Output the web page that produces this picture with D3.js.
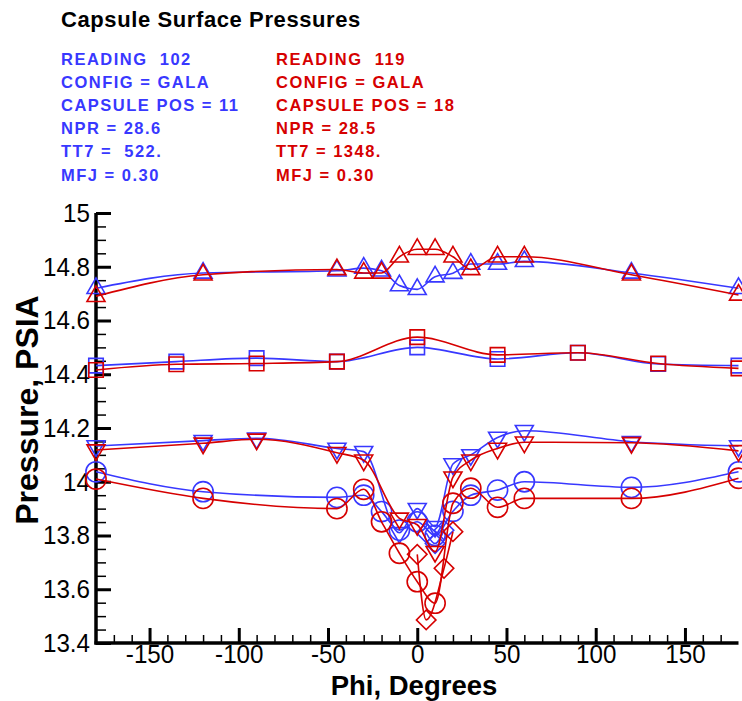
<!DOCTYPE html>
<html>
<head>
<meta charset="utf-8">
<script src="https://cdn.jsdelivr.net/npm/d3@7"></script>
<style>
  body { margin: 0; background: #fff; }
  svg { display: block; font-family: "Liberation Sans", Arial, sans-serif; }
</style>
</head>
<body>
<div class="plot"></div>
<script>
// ---- data ----
const phiTriUp = [-180, -120, -45, -30, -20, -10, 0, 10, 20, 30, 45, 60, 120, 180];
const blueTriUp = [14.72, 14.777, 14.785, 14.795, 14.785, 14.73, 14.716, 14.763, 14.776, 14.81, 14.81, 14.82, 14.777, 14.72];
const redTriUp = [14.69, 14.77, 14.79, 14.777, 14.777, 14.837, 14.865, 14.865, 14.837, 14.79, 14.837, 14.837, 14.77, 14.695];

const phiSquare = [-180, -135, -90, -45, 0, 45, 90, 135, 180];
const blueSquare = [14.432, 14.447, 14.46, 14.447, 14.5, 14.457, 14.48, 14.438, 14.432];
const redSquare = [14.416, 14.437, 14.44, 14.447, 14.538, 14.472, 14.48, 14.44, 14.422];

const phiTriDown = [-180, -120, -90, -45, -30, -10, 0, 10, 20, 30, 45, 60, 120, 180];
const blueTriDown = [14.133, 14.153, 14.162, 14.124, 14.112, 13.81, 13.9, 13.833, 14.066, 14.1, 14.165, 14.19, 14.149, 14.133];
const redTriDown = [14.118, 14.143, 14.158, 14.108, 14.08, 13.864, 13.84, 13.74, 14.017, 14.08, 14.124, 14.147, 14.145, 14.115];

const phiCircle = [-180, -120, -45, -30, -20, -10, 0, 10, 20, 30, 45, 60, 120, 180];
const blueCircle = [14.037, 13.963, 13.942, 13.95, 13.889, 13.82, 13.851, 13.8, 13.89, 13.95, 13.969, 14.0, 13.979, 14.037];
const redCircle = [14.01, 13.938, 13.9, 13.972, 13.851, 13.734, 13.628, 13.548, 13.92, 13.976, 13.905, 13.938, 13.938, 14.013];

const phiBlueDiamond = [5, 10, 15];
const blueDiamond = [13.81, 13.77, 13.82];
const phiRedDiamond = [0, 5, 15, 20];
const redDiamond = [13.73, 13.486, 13.678, 13.814];

const blueInfo = ["READING  102", "CONFIG = GALA", "CAPSULE POS = 11", "NPR = 28.6", "TT7 =  522.", "MFJ = 0.30"];
const redInfo = ["READING  119", "CONFIG = GALA", "CAPSULE POS = 18", "NPR = 28.5", "TT7 = 1348.", "MFJ = 0.30"];

const xTicks = [-150, -100, -50, 0, 50, 100, 150];
const yTicks = [13.4, 13.6, 13.8, 14, 14.2, 14.4, 14.6, 14.8, 15];

const BLUE = "#3838ff", RED = "#d60000";

const series = [
  { phi: phiTriUp, v: blueTriUp, shape: "up", color: BLUE },
  { phi: phiSquare, v: blueSquare, shape: "square", color: BLUE },
  { phi: phiTriDown, v: blueTriDown, shape: "down", color: BLUE },
  { phi: phiCircle, v: blueCircle, shape: "circle", color: BLUE },
  { phi: phiBlueDiamond, v: blueDiamond, shape: "diamond", color: BLUE },
  { phi: phiTriUp, v: redTriUp, shape: "up", color: RED },
  { phi: phiSquare, v: redSquare, shape: "square", color: RED },
  { phi: phiTriDown, v: redTriDown, shape: "down", color: RED },
  { phi: phiCircle, v: redCircle, shape: "circle", color: RED },
  { phi: phiRedDiamond, v: redDiamond, shape: "diamond", color: RED }
];

const width = 742, height = 701;
const plotL = 96, plotR = 738.5, plotT = 213, plotB = 643;

const svg = d3.select(".plot").append("svg")
  .attr("width", width)
  .attr("height", height);

const x = d3.scaleLinear().domain([-180, 180]).range([plotL, plotR]);
const y = d3.scaleLinear().domain([13.4, 15]).range([plotB, plotT]);

// title + run info
svg.append("text")
  .attr("x", 61).attr("y", 27)
  .attr("font-size", 22).attr("font-weight", "bold")
  .attr("letter-spacing", 0.6)
  .text("Capsule Surface Pressures");

[[blueInfo, 61, BLUE], [redInfo, 276, RED]].forEach(function(b) {
  svg.append("g").selectAll("text").data(b[0]).enter()
    .append("text")
    .attr("x", b[1])
    .attr("y", function(d, i) { return 65 + i * 23.1; })
    .attr("font-size", 16.5).attr("font-weight", "bold")
    .attr("letter-spacing", 1.5)
    .attr("fill", b[2])
    .style("white-space", "pre")
    .text(function(d) { return d; });
});

// minor ticks
const xMinor = d3.range(-170, 180, 10).filter(function(d) { return d % 50 !== 0; });
const yMinor = d3.range(0, 33).map(function(i) { return +(13.4 + i * 0.05).toFixed(2); })
  .filter(function(d) { return Math.round(d * 100) % 20 !== 0; });

svg.append("g")
  .attr("transform", "translate(0," + plotB + ")")
  .call(d3.axisBottom(x).tickValues(xMinor).tickSizeInner(-8).tickSizeOuter(0).tickFormat(""))
  .call(function(g) { g.select(".domain").remove(); })
  .selectAll("line").attr("stroke-width", 1.5);

svg.append("g")
  .attr("transform", "translate(" + plotL + ",0)")
  .call(d3.axisLeft(y).tickValues(yMinor).tickSizeInner(-10).tickSizeOuter(0).tickFormat(""))
  .call(function(g) { g.select(".domain").remove(); })
  .selectAll("line").attr("stroke-width", 1.5);

// major ticks and labels (plain hyphen for negatives, like the original)
const xAxis = svg.append("g")
  .attr("transform", "translate(0," + plotB + ")")
  .call(d3.axisBottom(x).tickValues(xTicks).tickSizeInner(-15).tickSizeOuter(0).tickPadding(2)
    .tickFormat(function(d) { return String(d); }));
const yAxis = svg.append("g")
  .attr("transform", "translate(" + plotL + ",0)")
  .call(d3.axisLeft(y).tickValues(yTicks).tickSizeInner(-15).tickSizeOuter(0).tickPadding(6)
    .tickFormat(function(d) { return String(d); }));

[xAxis, yAxis].forEach(function(g) {
  g.select(".domain").attr("stroke-width", 3.5);
  g.selectAll(".tick line").attr("stroke-width", 3);
  g.selectAll(".tick text")
    .attr("font-family", "'Liberation Sans', Arial, sans-serif")
    .attr("font-size", 26)
    .attr("fill", "#000");
});
xAxis.select(".domain").attr("d", "M" + (plotL - 1.5) + ",0H" + plotR);
yAxis.select(".domain").attr("d", "M0," + plotT + "V" + (plotB + 1.5));

// squeeze the tick labels like the original narrow face
svg.selectAll(".tick text").each(function() {
  const w = this.getComputedTextLength();
  d3.select(this).attr("textLength", w * 0.93).attr("lengthAdjust", "spacingAndGlyphs");
});

// axis titles
svg.append("text")
  .attr("x", 414).attr("y", 695)
  .attr("text-anchor", "middle")
  .attr("font-size", 27.5).attr("font-weight", "bold")
  .text("Phi, Degrees");

svg.append("text")
  .attr("transform", "translate(38,410) rotate(-90)")
  .attr("text-anchor", "middle")
  .attr("font-size", 32).attr("font-weight", "bold")
  .text("Pressure, PSIA");

// series
const line = d3.line()
  .x(function(d) { return x(d[0]); })
  .y(function(d) { return y(d[1]); })
  .curve(d3.curveMonotoneX);

const symbols = {
  up: d3.symbol(d3.symbolTriangle, 140),
  down: d3.symbol(d3.symbolTriangle, 140),
  square: d3.symbol(d3.symbolSquare, 210),
  circle: d3.symbol(d3.symbolCircle, 320),
  diamond: d3.symbol(d3.symbolSquare, 190)
};
const rotation = { up: 0, down: 180, square: 0, circle: 0, diamond: 45 };

const plot = svg.append("g");
series.forEach(function(s) {
  const pts = s.phi.map(function(p, i) { return [p, s.v[i]]; });
  const g = plot.append("g");
  g.append("path")
    .attr("d", line(pts))
    .attr("fill", "none")
    .attr("stroke", s.color)
    .attr("stroke-width", 1.6);
  g.selectAll("path.m").data(pts).enter()
    .append("path")
    .attr("class", "m")
    .attr("d", symbols[s.shape])
    .attr("transform", function(d) {
      return "translate(" + x(d[0]) + "," + y(d[1]) + ") rotate(" + rotation[s.shape] + ")";
    })
    .attr("fill", "none")
    .attr("stroke", s.color)
    .attr("stroke-width", 1.6);
});
</script>
</body>
</html>
